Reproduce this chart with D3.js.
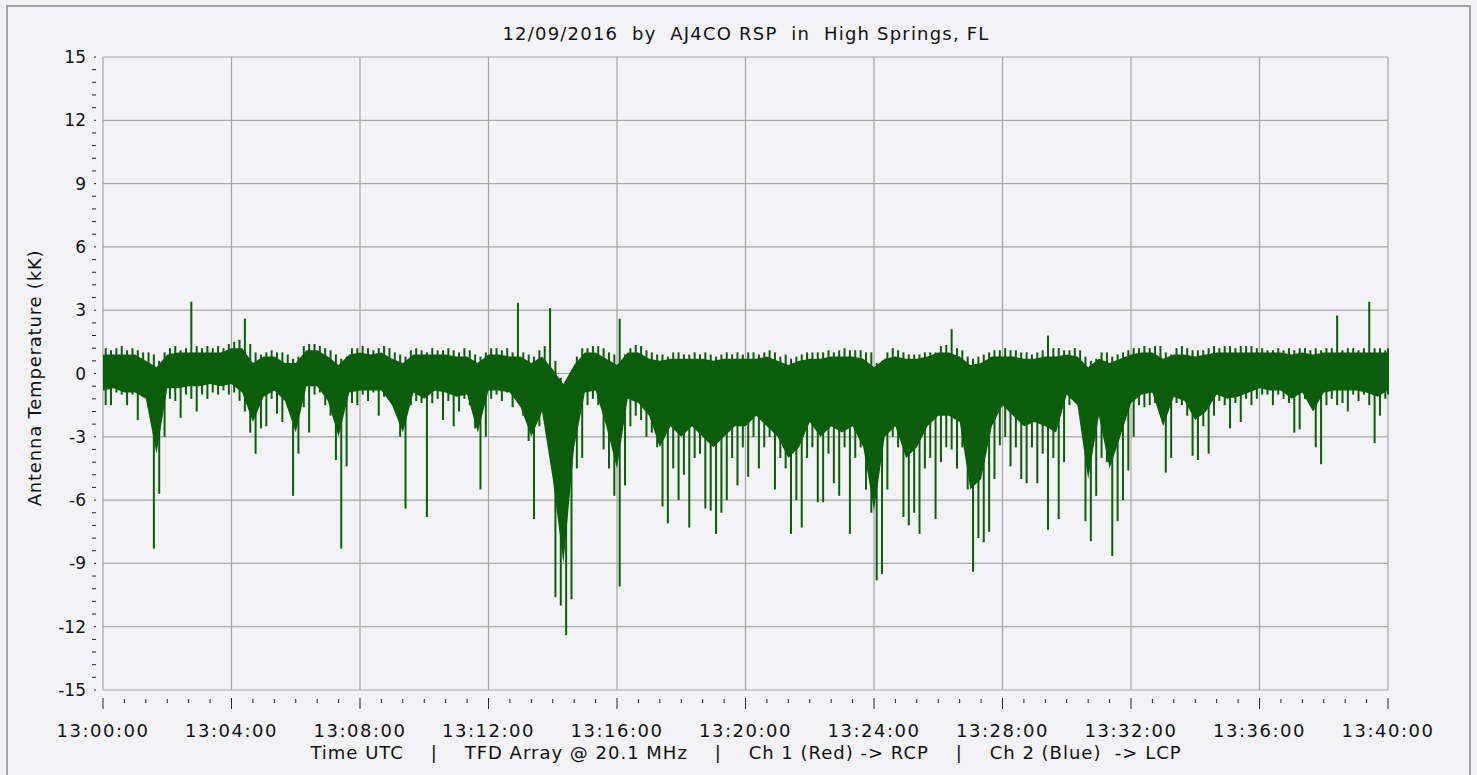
<!DOCTYPE html>
<html>
<head>
<meta charset="utf-8">
<script src="https://cdn.jsdelivr.net/npm/d3@7"></script>
<style>
  body { margin: 0; background: #f2f2f5; }
  svg { display: block; font-family: "DejaVu Sans", Verdana, sans-serif; }
  text { white-space: pre; fill: #111; }
</style>
</head>
<body>
<svg width="1477" height="775"></svg>
<script>
// Chart text
const title = '12/09/2016  by  AJ4CO RSP  in  High Springs, FL';
const xTitle = 'Time UTC    |    TFD Array @ 20.1 MHz    |    Ch 1 (Red) -> RCP    |    Ch 2 (Blue)  -> LCP';
const yTitle = 'Antenna Temperature (kK)';
const xTickLabels = ['13:00:00', '13:04:00', '13:08:00', '13:12:00', '13:16:00', '13:20:00',
    '13:24:00', '13:28:00', '13:32:00', '13:36:00', '13:40:00'];
const yTickLabels = ['-15', '-12', '-9', '-6', '-3', '0', '3', '6', '9', '12', '15'];

// Peak (hi) and trough (lo) of the trace in each 10 s bin, 13:00:00 .. 13:40:00 (kK)
const peakHi = [
    1.2, 1.1, 1.2, 1.3, 1.1, 1.2, 1.1, 1.0, 1.0, 0.9, 0.6, 1.0, 1.2, 1.3, 1.1, 1.2, 3.4, 1.3, 1.2, 1.3,
    1.2, 1.3, 1.2, 1.4, 1.5, 1.6, 2.6, 1.4, 1.0, 0.9, 1.0, 1.1, 1.0, 1.0, 0.9, 0.7, 0.8, 1.3, 1.4, 1.4,
    1.3, 1.2, 1.1, 0.9, 0.7, 0.8, 1.2, 1.2, 1.3, 1.2, 1.1, 1.2, 1.3, 1.2, 1.0, 0.9, 0.8, 1.1, 1.2, 1.1,
    1.0, 1.2, 1.1, 1.1, 1.2, 1.1, 1.0, 1.2, 1.1, 0.9, 0.8, 1.0, 1.2, 1.2, 1.1, 1.2, 1.0, 3.35, 1.0, 0.9,
    0.8, 1.1, 1.3, 3.1, 0.6, -0.2, -0.5, -0.3, 0.8, 1.2, 1.2, 1.3, 1.3, 1.2, 1.0, 0.9, 2.6, 0.9, 1.2, 1.35,
    1.3, 1.1, 1.0, 0.9, 0.9, 0.8, 1.0, 1.0, 0.9, 0.9, 1.0, 0.9, 1.0, 0.9, 0.8, 0.9, 1.0, 0.9, 1.0, 0.9,
    1.0, 1.0, 0.9, 1.0, 1.1, 1.0, 0.8, 0.9, 0.7, 0.8, 0.9, 1.0, 1.0, 1.0, 1.0, 1.1, 1.0, 1.1, 1.2, 1.1,
    1.1, 1.1, 1.0, 1.0, 0.5, 0.6, 1.0, 1.2, 1.1, 1.0, 0.9, 0.9, 0.9, 1.0, 1.0, 1.0, 1.3, 1.35, 2.1, 1.2,
    1.1, 0.8, 0.7, 0.8, 0.9, 1.0, 1.1, 1.1, 1.2, 1.1, 1.1, 1.0, 1.0, 0.9, 1.0, 1.1, 1.8, 1.2, 1.2, 1.1,
    1.1, 1.2, 1.1, 0.8, 0.6, 0.7, 1.0, 1.0, 0.8, 0.9, 1.0, 1.1, 1.2, 1.2, 1.3, 1.2, 1.3, 1.3, 1.0, 0.9,
    1.2, 1.3, 1.2, 1.1, 1.1, 1.1, 1.2, 1.3, 1.2, 1.3, 1.3, 1.2, 1.3, 1.3, 1.3, 1.2, 1.2, 1.1, 1.1, 1.2,
    1.1, 1.2, 1.1, 1.2, 1.2, 1.1, 1.2, 1.1, 1.2, 1.2, 2.75, 1.1, 1.2, 1.2, 1.1, 1.2, 3.4, 1.2, 1.2, 1.1,
    1.2
];
const troughLo = [
    -1.5, -1.5, -0.9, -1.0, -1.5, -1.0, -2.2, -1.1, -1.6, -8.3, -5.7, -3.0, -1.2, -1.3, -2.1, -1.0, -1.2, -1.8, -1.0, -1.2,
    -0.9, -1.0, -0.8, -1.0, -0.9, -1.3, -1.8, -2.8, -3.8, -2.6, -2.5, -1.2, -1.9, -2.3, -1.4, -5.8, -3.8, -1.6, -2.8, -1.0,
    -0.9, -1.5, -2.0, -4.1, -8.3, -4.4, -1.4, -1.5, -1.0, -1.3, -0.9, -2.0, -1.1, -1.2, -1.3, -3.0, -6.4, -1.5, -1.3, -1.4,
    -6.8, -1.4, -1.2, -2.2, -1.3, -2.5, -1.8, -1.2, -1.5, -2.6, -5.5, -3.0, -1.2, -1.0, -1.3, -0.9, -1.6, -1.3, -2.0, -3.2,
    -6.9, -2.5, -2.2, -2.8, -10.6, -11.0, -12.4, -10.7, -4.5, -4.0, -1.5, -1.2, -1.5, -3.6, -4.5, -5.8, -10.1, -5.3, -2.5, -2.0,
    -2.2, -3.0, -2.8, -3.5, -6.3, -7.1, -4.5, -6.0, -4.8, -7.3, -4.0, -3.8, -6.4, -6.5, -7.6, -6.6, -6.0, -4.0, -5.3, -3.5,
    -4.9, -3.0, -4.5, -3.5, -3.0, -5.5, -4.0, -4.5, -7.6, -6.0, -7.3, -4.0, -3.5, -6.1, -6.1, -3.8, -5.2, -5.8, -3.5, -7.6,
    -4.0, -3.5, -5.5, -6.6, -9.8, -9.5, -5.5, -3.0, -3.5, -6.8, -7.2, -6.6, -7.6, -4.5, -4.0, -6.9, -4.2, -3.5, -3.6, -4.5,
    -3.5, -5.5, -9.4, -7.8, -8.0, -7.5, -5.0, -3.4, -3.0, -4.4, -3.5, -5.0, -5.2, -3.5, -5.2, -3.8, -7.4, -4.0, -6.9, -4.2,
    -1.5, -1.2, -2.0, -7.0, -7.95, -5.8, -4.0, -4.2, -8.65, -7.0, -6.0, -4.6, -3.0, -1.5, -1.6, -1.5, -1.4, -1.2, -4.7, -4.0,
    -1.4, -1.5, -2.0, -3.9, -4.1, -2.5, -3.8, -2.0, -1.3, -1.5, -2.6, -1.4, -2.3, -1.2, -1.5, -1.2, -1.0, -1.0, -1.5, -1.0,
    -1.2, -1.4, -2.8, -2.65, -1.2, -1.2, -3.5, -4.3, -1.5, -1.2, -1.5, -1.4, -1.8, -1.0, -1.3, -1.0, -1.5, -3.3, -2.0, -1.2,
    -1.0
];

// Dense (solid) part of the trace every 20 s (kK)
const coreTop = [
    0.9, 0.9, 0.9, 0.9, 0.6, 0.3, 0.9, 1.0, 1.0, 1.0, 1.0, 1.0, 1.2, 1.2, 0.5, 0.8, 0.8, 0.5, 0.5, 1.1,
    1.1, 0.8, 0.4, 0.9, 1.0, 0.9, 1.0, 0.7, 0.5, 0.9, 0.9, 0.9, 0.9, 0.8, 0.8, 0.5, 0.9, 0.9, 0.8, 0.8,
    0.5, 0.8, 0.2, -0.5, 0.4, 1.0, 1.0, 0.7, 0.4, 1.0, 1.0, 0.7, 0.6, 0.7, 0.7, 0.7, 0.7, 0.6, 0.7, 0.7,
    0.7, 0.7, 0.8, 0.6, 0.4, 0.6, 0.7, 0.7, 0.8, 0.8, 0.8, 0.7, 0.3, 0.7, 0.8, 0.7, 0.7, 0.8, 1.0, 1.0,
    0.8, 0.4, 0.5, 0.8, 0.8, 0.8, 0.7, 0.7, 0.8, 0.8, 0.9, 0.8, 0.3, 0.7, 0.5, 0.7, 0.9, 1.0, 1.0, 0.7,
    0.9, 0.9, 0.8, 0.9, 1.0, 1.0, 1.0, 1.0, 1.0, 1.0, 1.0, 0.9, 1.0, 0.9, 1.0, 1.0, 1.0, 1.0, 1.0, 1.0,
    1.0
];
const coreBot = [
    -0.8, -0.7, -0.9, -0.9, -1.2, -3.8, -0.7, -0.7, -0.6, -0.6, -0.5, -0.6, -0.5, -0.9, -2.3, -1.1, -0.8, -1.3, -2.8, -0.6,
    -0.6, -1.3, -3.0, -0.9, -0.8, -0.8, -0.8, -1.5, -2.8, -0.9, -1.2, -0.8, -0.9, -1.1, -1.0, -2.8, -0.8, -0.8, -0.9, -1.6,
    -3.0, -1.8, -5.0, -9.0, -3.5, -0.9, -0.8, -2.5, -4.5, -1.2, -1.4, -2.0, -3.5, -2.5, -3.0, -2.5, -3.0, -3.5, -3.0, -2.5,
    -2.5, -2.0, -2.5, -3.0, -4.0, -3.5, -2.3, -3.0, -2.5, -2.8, -2.5, -3.5, -6.5, -3.0, -2.5, -4.0, -3.5, -2.5, -2.0, -2.0,
    -2.3, -5.5, -5.0, -2.5, -1.5, -2.0, -2.5, -2.3, -2.5, -2.8, -1.0, -1.5, -5.0, -2.0, -4.5, -3.0, -1.4, -1.0, -0.9, -2.5,
    -1.1, -1.3, -2.2, -1.8, -1.0, -1.2, -1.1, -0.9, -0.7, -0.8, -0.8, -1.2, -0.9, -1.8, -0.9, -0.8, -0.8, -0.8, -0.9, -1.1,
    -0.8
];

const svg = d3.select('svg');

// Scales: seconds after 13:00:00 and kK
const x = d3.scaleLinear().domain([0, 2400]).range([103, 1388]);
const y = d3.scaleLinear().domain([-15, 15]).range([690, 57]);

// Outer frame
svg.append('rect')
    .attr('x', 7).attr('y', 6).attr('width', 1463).attr('height', 780)
    .attr('fill', '#f3f3f6').attr('stroke', '#a3a3a3').attr('stroke-width', 2);

// Grid
const grid = svg.append('g').attr('stroke', '#a6a6a6').attr('stroke-width', 1.2);
grid.selectAll('line.v')
    .data(xTickLabels.map((d, i) => i * 240))
    .join('line')
    .attr('class', 'v')
    .attr('x1', (d) => x(d)).attr('x2', (d) => x(d))
    .attr('y1', y(15)).attr('y2', y(-15));
grid.selectAll('line.h')
    .data(yTickLabels.map((d) => +d))
    .join('line')
    .attr('class', 'h')
    .attr('x1', x(0)).attr('x2', x(2400))
    .attr('y1', (d) => y(d)).attr('y2', (d) => y(d));

// Trace
const green = '#0b5d0b';
const binTimes = troughLo.map((d, i) => i * 10);
const coreTimes = coreTop.map((d, i) => i * 20);
const trace = svg.append('g');
trace.append('path')
    .datum(coreTimes)
    .attr('fill', green)
    .attr('d', d3.area()
        .x((t) => x(t))
        .y0((t, i) => y(coreBot[i]))
        .y1((t, i) => y(coreTop[i])));
trace.selectAll('line')
    .data(binTimes)
    .join('line')
    .attr('stroke', green)
    .attr('stroke-width', 2)
    .attr('x1', (t) => x(Math.min(t + 5, 2400))).attr('x2', (t) => x(Math.min(t + 5, 2400)))
    .attr('y1', (t, i) => y(peakHi[i])).attr('y2', (t, i) => y(troughLo[i]));

// Y axis: minor every 0.6, major every 3
const yAxis = svg.append('g').attr('stroke', '#222');
yAxis.selectAll('line')
    .data(d3.range(0, 51))
    .join('line')
    .attr('x1', (i) => (i % 5 === 0 ? 94 : 92)).attr('x2', 96)
    .attr('y1', (i) => y(-15 + i * 0.6)).attr('y2', (i) => y(-15 + i * 0.6));
svg.append('g').selectAll('text')
    .data(yTickLabels)
    .join('text')
    .attr('x', 86).attr('y', (d) => y(+d) + 6)
    .attr('text-anchor', 'end')
    .attr('font-size', 17)
    .text((d) => d);

// X axis: minor every 40 s, major every 4 min
const xAxis = svg.append('g').attr('stroke', '#222');
xAxis.selectAll('line')
    .data(d3.range(0, 61))
    .join('line')
    .attr('x1', (i) => x(i * 40)).attr('x2', (i) => x(i * 40))
    .attr('y1', (i) => (i % 6 === 0 ? 698 : 699)).attr('y2', (i) => (i % 6 === 0 ? 709 : 703));
svg.append('g').selectAll('text')
    .data(xTickLabels)
    .join('text')
    .attr('x', (d, i) => x(i * 240)).attr('y', 737)
    .attr('text-anchor', 'middle')
    .attr('font-size', 18)
    .attr('letter-spacing', 1.5)
    .text((d) => d);

// Titles
svg.append('text')
    .attr('x', 746).attr('y', 40)
    .attr('text-anchor', 'middle')
    .attr('font-size', 18)
    .attr('letter-spacing', 1.2)
    .text(title);
svg.append('text')
    .attr('x', 746).attr('y', 759)
    .attr('text-anchor', 'middle')
    .attr('font-size', 18)
    .attr('letter-spacing', 1.0)
    .text(xTitle);
svg.append('text')
    .attr('transform', 'translate(41,378) rotate(-90)')
    .attr('text-anchor', 'middle')
    .attr('font-size', 18)
    .attr('letter-spacing', 0.8)
    .text(yTitle);
</script>
</body>
</html>
